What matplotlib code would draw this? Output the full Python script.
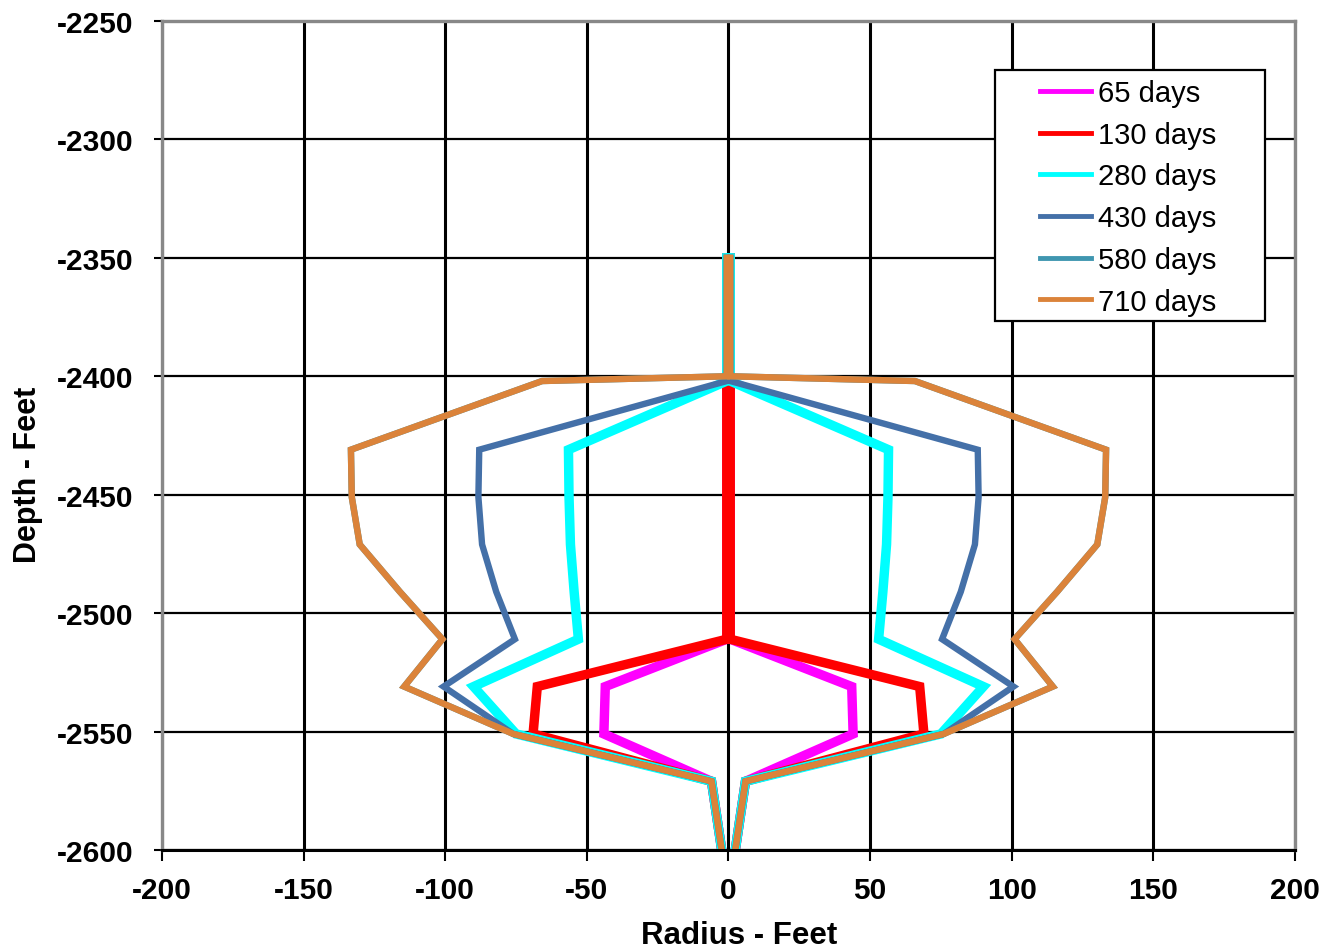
import matplotlib
matplotlib.use("Agg")
import matplotlib.pyplot as plt
from matplotlib.patches import Rectangle
import numpy as np

# Depth (feet) at which radii were read
depth = [-2350, -2400, -2402, -2431, -2451, -2471, -2491, -2511, -2531, -2551, -2571, -2600]

# Radius (feet) of each profile (plotted symmetric about 0)
r_65 = [0.6, 0.6, 0.6, 0.6, 0.6, 0.6, 0.6, 0.6, 43.5, 44.0, 6.0, 2.4]
r_130 = [0.6, 0.6, 0.6, 0.6, 0.6, 0.6, 0.6, 0.6, 67.5, 69.0, 6.0, 2.4]
r_280 = [0.6, 0.6, 0.6, 56.5, 56.3, 55.8, 54.5, 53.0, 90.0, 75.0, 6.0, 2.4]
r_430 = [0.6, 0.6, 0.6, 88.0, 88.3, 87.0, 82.0, 75.4, 100.6, 76.0, 6.0, 2.4]
r_580 = [0.6, 0.6, 65.8, 133.3, 133.0, 130.2, 116.0, 101.0, 114.5, 76.0, 6.0, 2.4]
r_710 = [0.6, 0.6, 65.8, 133.3, 133.0, 130.2, 116.0, 101.0, 114.5, 76.0, 6.0, 2.4]

labels = ["65 days", "130 days", "280 days", "430 days", "580 days", "710 days"]
series = [r_65, r_130, r_280, r_430, r_580, r_710]
colors = ["#FF00FF", "#FF0000", "#00FFFF", "#4470A8", "#3F96B0", "#DB833A"]
widths = [6.8, 6.8, 6.8, 4.6, 4.6, 4.6]

x_ticks = [-200, -150, -100, -50, 0, 50, 100, 150, 200]
y_ticks = [-2600, -2550, -2500, -2450, -2400, -2350, -2300, -2250]

plt.rcParams['font.family'] = ['Liberation Sans', 'DejaVu Sans']
plt.rcParams['axes.unicode_minus'] = False

W, H = 1328, 953
fig = plt.figure(figsize=(W/100, H/100), dpi=100)
ax = fig.add_axes([162/W, 1 - 851/H, (1295 - 162)/W, (851 - 22)/H])

d = np.array(depth)
for r, lab, c, w in zip(series, labels, colors, widths):
    r = np.array(r)
    ax.plot(-r, d, color=c, lw=w, solid_joinstyle='miter', zorder=3, label=lab)
    ax.plot(r, d, color=c, lw=w, solid_joinstyle='miter', zorder=3)

ax.set_xlim(-200, 200)
ax.set_ylim(-2600, -2250)
ax.set_xticks(x_ticks)
ax.set_yticks(y_ticks)
ax.grid(True, color='black', lw=1.6, zorder=1)
for gl in ax.xaxis.get_gridlines():
    gl.set_linewidth(2.2)
ax.set_axisbelow(True)

for s in ['top', 'right', 'left']:
    ax.spines[s].set_color('#888888')
    ax.spines[s].set_linewidth(2.4)
    ax.spines[s].set_zorder(4)
ax.spines['bottom'].set_color('black')
ax.spines['bottom'].set_linewidth(2.2)
ax.spines['bottom'].set_zorder(4)

ax.tick_params(axis='y', direction='out', length=5.5, width=1.5, pad=15,
               labelsize=21.5)
ax.tick_params(axis='x', direction='out', length=8, width=1.5, pad=11,
               labelsize=21.5)
for t in ax.get_xticklabels() + ax.get_yticklabels():
    t.set_fontweight('bold')

ax.set_xlabel("Radius - Feet", fontsize=22.5, fontweight='bold')
ax.set_ylabel("Depth - Feet", fontsize=22, fontweight='bold')
ax.xaxis.set_label_coords(0.509, -0.084)
ax.yaxis.set_label_coords(-0.105, 0.454)

# legend frame (drawn inside the axes so the legend sits on top of it)
frame = Rectangle((995/W, 1 - 322/H), (1265 - 995)/W, (322 - 71)/H,
                  transform=fig.transFigure, facecolor='white',
                  edgecolor='black', lw=1.6, zorder=5, clip_on=False)
ax.add_artist(frame)
leg = ax.legend(loc='upper left', bbox_to_anchor=(1040/W, 1 - 80/H),
                bbox_transform=fig.transFigure, fontsize=21, frameon=False,
                handlelength=1.75, handletextpad=0.25, labelspacing=0.47,
                borderpad=0, borderaxespad=0)
leg.set_zorder(6)
for ln in leg.get_lines():
    ln.set_linewidth(3.5)

fig.savefig("out.png", dpi=100)
